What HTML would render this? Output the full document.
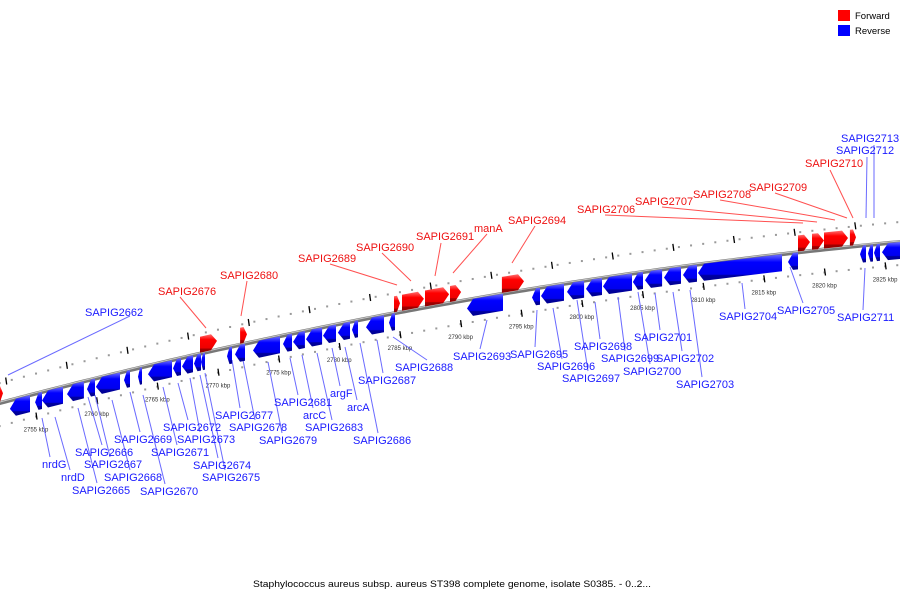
<!DOCTYPE html>
<html><head><meta charset="utf-8"><style>
body{margin:0;background:#fff}
svg{display:block;font-family:"Liberation Sans","DejaVu Sans",sans-serif}
</style></head><body>
<svg id="chart" width="900" height="600" viewBox="0 0 900 600">
<defs>
<linearGradient id="gr" x1="0" y1="0" x2="0" y2="1"><stop offset="0" stop-color="#ff7070"/><stop offset="0.3" stop-color="#ff0000"/><stop offset="0.75" stop-color="#ee0000"/><stop offset="0.8" stop-color="#a00000"/><stop offset="1" stop-color="#900000"/></linearGradient>
<linearGradient id="gb" x1="0" y1="0" x2="0" y2="1"><stop offset="0" stop-color="#7070ff"/><stop offset="0.3" stop-color="#0000ff"/><stop offset="0.75" stop-color="#0000ee"/><stop offset="0.8" stop-color="#0000a0"/><stop offset="1" stop-color="#000090"/></linearGradient>
</defs>
<g id="ticks"></g>
<g id="leaders"></g>
<path id="backbone" fill="none" stroke="#777" stroke-width="4"/>
<path id="backbone2" fill="none" stroke="#c8c8c8" stroke-width="1"/>
<g id="genes"></g>
<g id="labels"></g>
<g>
<rect x="838" y="10" width="12" height="11" fill="#ff0000"/>
<text x="855" y="19" font-size="9.5" fill="#000">Forward</text>
<rect x="838" y="25" width="12" height="11" fill="#0000ff"/>
<text x="855" y="34" font-size="9.5" fill="#000">Reverse</text>
</g>
<text x="253" y="587" font-size="9.5" textLength="398" lengthAdjust="spacingAndGlyphs" fill="#000">Staphylococcus aureus subsp. aureus ST398 complete genome, isolate S0385. - 0..2...</text>
</svg>
<script>
const fwdStart=[2751.78,2768.52,2771.82,2784.51,2785.17,2787.07,2789.13,2793.41,2817.82,2818.97,2819.96,2822.10];
const fwdEnd=[2752.28,2769.92,2772.39,2785.01,2786.98,2789.05,2790.04,2795.23,2818.81,2819.96,2821.94,2822.60];
const revStart=[2752.85,2754.92,2755.49,2757.55,2759.20,2759.94,2762.25,2763.41,2764.23,2766.29,2767.03,2768.02,2768.60,2770.74,2771.40,2772.89,2775.36,2776.19,2777.26,2778.66,2779.89,2781.05,2782.20,2784.10,2790.53,2795.89,2796.63,2798.77,2800.34,2801.74,2804.21,2805.20,2806.77,2808.34,2809.57,2816.99,2822.93,2823.59,2824.08,2824.74];
const revEnd=[2754.50,2755.49,2757.22,2758.95,2759.86,2761.92,2762.75,2763.74,2766.21,2766.95,2767.94,2768.60,2768.93,2771.16,2772.23,2775.11,2776.10,2777.17,2778.58,2779.73,2780.88,2781.54,2783.69,2784.59,2793.50,2796.55,2798.53,2800.18,2801.66,2804.13,2805.04,2806.61,2808.17,2809.49,2816.50,2817.82,2823.42,2824.00,2824.58,2826.23];
const tickKbp=[2755,2760,2765,2770,2775,2780,2785,2790,2795,2800,2805,2810,2815,2820,2825];
const tickLabels=["2755 kbp","2760 kbp","2765 kbp","2770 kbp","2775 kbp","2780 kbp","2785 kbp","2790 kbp","2795 kbp","2800 kbp","2805 kbp","2810 kbp","2815 kbp","2820 kbp","2825 kbp"];
const revLabels=[
["SAPIG2662",85,312,8,375,130,316],["nrdG",42,464,42,418,50,457],["nrdD",61,477,55,417,70,470],["SAPIG2665",72,490,78,408,97,483],
["SAPIG2666",75,452,88,397,102,445],["SAPIG2667",84,464,95,395,110,457],["SAPIG2668",104,477,112,400,130,470],["SAPIG2669",114,439,130,392,140,432],
["SAPIG2670",140,491,143,395,165,484],["SAPIG2671",151,452,163,387,177,445],["SAPIG2672",163,427,178,383,188,420],["SAPIG2673",177,439,190,378,200,432],
["SAPIG2674",193,465,200,375,218,458],["SAPIG2675",202,477,205,373,225,470],["SAPIG2677",215,415,232,360,240,408],["SAPIG2678",229,427,243,360,255,420],
["SAPIG2679",259,440,268,362,282,433],["SAPIG2681",274,402,290,358,298,395],["arcC",303,415,302,355,313,408],["SAPIG2683",305,427,317,353,332,420],
["argF",330,393,332,348,340,386],["arcA",347,407,345,347,357,400],["SAPIG2686",353,440,360,343,378,433],["SAPIG2687",358,380,377,340,383,373],
["SAPIG2688",395,367,393,337,427,360],["SAPIG2693",453,356,487,320,480,349],["SAPIG2695",510,354,537,310,535,347],["SAPIG2696",537,366,553,308,562,359],
["SAPIG2697",562,378,577,300,588,371],["SAPIG2698",574,346,595,302,600,339],["SAPIG2699",601,358,618,297,625,351],["SAPIG2700",623,371,638,292,650,364],
["SAPIG2701",634,337,655,293,660,330],["SAPIG2702",656,358,673,292,682,351],["SAPIG2703",676,384,690,290,702,377],["SAPIG2704",719,316,742,283,745,309],
["SAPIG2705",777,310,790,267,803,303],["SAPIG2711",837,317,865,268,863,310],["SAPIG2712",836,150,866,218,867,157],["SAPIG2713",841,138,874,218,874,145]];
const fwdLabels=[
["SAPIG2676",158,291,180,297,206,328],["SAPIG2680",220,275,247,281,241,316],["SAPIG2689",298,258,330,264,397,285],["SAPIG2690",356,247,382,253,411,281],
["SAPIG2691",416,236,441,243,435,276],["manA",474,228,487,234,453,273],["SAPIG2694",508,220,535,226,512,263],["SAPIG2706",577,209,605,215,803,223],
["SAPIG2707",635,201,662,207,817,222],["SAPIG2708",693,194,720,200,835,220],["SAPIG2709",749,187,775,193,847,218],["SAPIG2710",805,163,830,170,853,218]];

const NS="http://www.w3.org/2000/svg";
function xs(k){return (k-2752.03)*12.13;}
function cy(x){return 403-0.2656*x+0.0000963*x*x;}
function mk(tag,attrs,parent){const e=document.createElementNS(NS,tag);for(const a in attrs)e.setAttribute(a,attrs[a]);parent.appendChild(e);return e;}
let d="";for(let x=-5;x<=905;x+=5){d+=(x===-5?"M":"L")+x+","+cy(x).toFixed(2);}
document.getElementById("backbone").setAttribute("d",d);
let d2="";for(let x=-5;x<=905;x+=5){d2+=(x===-5?"M":"L")+x+","+(cy(x)-1).toFixed(2);}
document.getElementById("backbone2").setAttribute("d",d2);
const tg=document.getElementById("ticks");
for(let k=2751;k<=2827;k++){
  const x=xs(k);
  const dot1=mk("rect",{x:x-1,y:cy(x)-21,width:2,height:2,fill:"#999"},tg);
  
  
  const dot2=mk("rect",{x:x-1,y:cy(x)+22,width:2,height:2,fill:"#999"},tg);
  
  
}
for(let i=0;i<tickKbp.length;i++){
  const x=xs(tickKbp[i]);
  const t=mk("line",{x1:x,y1:cy(x)+19,x2:x+1,y2:cy(x)+26,stroke:"#000","stroke-width":1.3},tg);
  
  
  const xu=xs(tickKbp[i]-2.5);
  const t2=mk("line",{x1:xu,y1:cy(xu)-24,x2:xu+1,y2:cy(xu)-17,stroke:"#000","stroke-width":1.3},tg);
  
  
  const lb=mk("text",{x:x,y:cy(x)+38,"font-size":6,"text-anchor":"middle",fill:"#333"},tg);
  lb.textContent=tickLabels[i];
  
  
}
const gg=document.getElementById("genes");
function gene(x1,x2,fwd){
  const h=fwd?16:17,off=fwd?-17:0;
  const w=x2-x1,tip=Math.min(6,w*0.5);
  let pts=[];
  if(fwd){
    const xb=x2-tip;
    pts=[[x1,cy(x1)+off],[xb,cy(xb)+off],[x2,cy(x2)+off+h/2],[xb,cy(xb)+off+h],[x1,cy(x1)+off+h]];
  }else{
    const xb=x1+tip;
    pts=[[x1,cy(x1)+off+h/2],[xb,cy(xb)+off],[x2,cy(x2)+off],[x2,cy(x2)+off+h],[xb,cy(xb)+off+h]];
  }
  return mk("polygon",{points:pts.map(p=>p[0].toFixed(1)+","+p[1].toFixed(1)).join(" "),fill:fwd?"url(#gr)":"url(#gb)"},gg);
}
for(let i=0;i<fwdStart.length;i++){
  const g=gene(xs(fwdStart[i]),xs(fwdEnd[i]),true);
  
  
}
for(let i=0;i<revStart.length;i++){
  const g=gene(xs(revStart[i]),xs(revEnd[i]),false);
  
  
}
const lg=document.getElementById("leaders"),lt=document.getElementById("labels");
function addLabels(arr,col,lcol){
  for(const L of arr){
    const ln=mk("line",{x1:L[3],y1:L[4],x2:L[5],y2:L[6],stroke:lcol,"stroke-width":1},lg);
    
    
    const t=mk("text",{x:L[1],y:L[2]+4,"font-size":11,fill:col},lt);
    t.textContent=L[0];
    
    
  }
}
addLabels(revLabels,"#1a1aff","#6a6aff");
addLabels(fwdLabels,"#ee1111","#ff5050");
</script>
</body></html>
